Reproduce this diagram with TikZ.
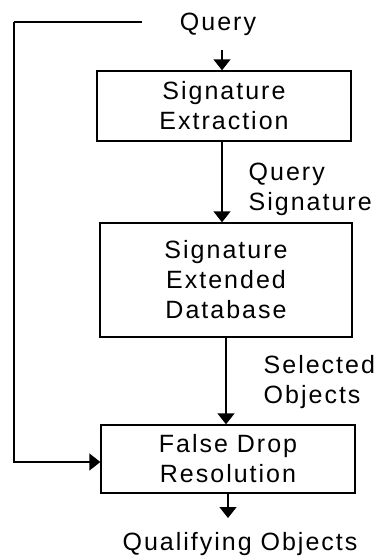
\documentclass[tikz,border=0pt]{standalone}
\usepackage{fontspec}
\setmainfont{Liberation Sans}[LetterSpace=8]
\usetikzlibrary{arrows.meta}
\begin{document}
\begin{tikzpicture}[x=1pt,y=-1pt,line width=1.4pt,
  txt/.style={font=\fontsize{25}{30}\selectfont},
  box/.style={draw,txt,align=center,inner sep=0pt},
  lbl/.style={txt,align=left,inner sep=0pt,anchor=west},
  arr/.style={-{Triangle[width=17pt,length=11pt]}}]
\useasboundingbox (0,0) rectangle (374,557);
\node[txt,inner sep=0pt] (query) at (218,24) {Query};
\node[box,minimum width=254pt,minimum height=70pt] (B1) at (224,106) {Signature\\Extraction};
\node[box,minimum width=252pt,minimum height=114pt] (B2) at (226,280) {Signature\\Extended\\Database};
\node[box,minimum width=254pt,minimum height=68pt] (B3) at (228,459) {False Drop\\Resolution};
\node[lbl] (qsig) at (248,189) {Query\\Signature};
\node[lbl] (sel) at (263,382) {Selected\\Objects};
\node[txt,inner sep=0pt] (qual) at (240,544) {Qualifying Objects};
\coordinate (qs) at (142,22);
\coordinate (lc) at (14,22);
\coordinate (qa) at (222,50);
\coordinate (qt) at (228,518);
\draw (qs) -- (lc);
\draw[arr] (lc) |- ([yshift=-3pt]B3.west);
\draw[arr] (qa) -- (qa |- B1.north);
\draw[arr] (B1.south -| qa) -- (B2.north -| qa);
\draw[arr] (B2.south) -- (B2.south |- B3.north);
\draw[arr] (B3.south -| qt) -- (qt);
\end{tikzpicture}
\end{document}
